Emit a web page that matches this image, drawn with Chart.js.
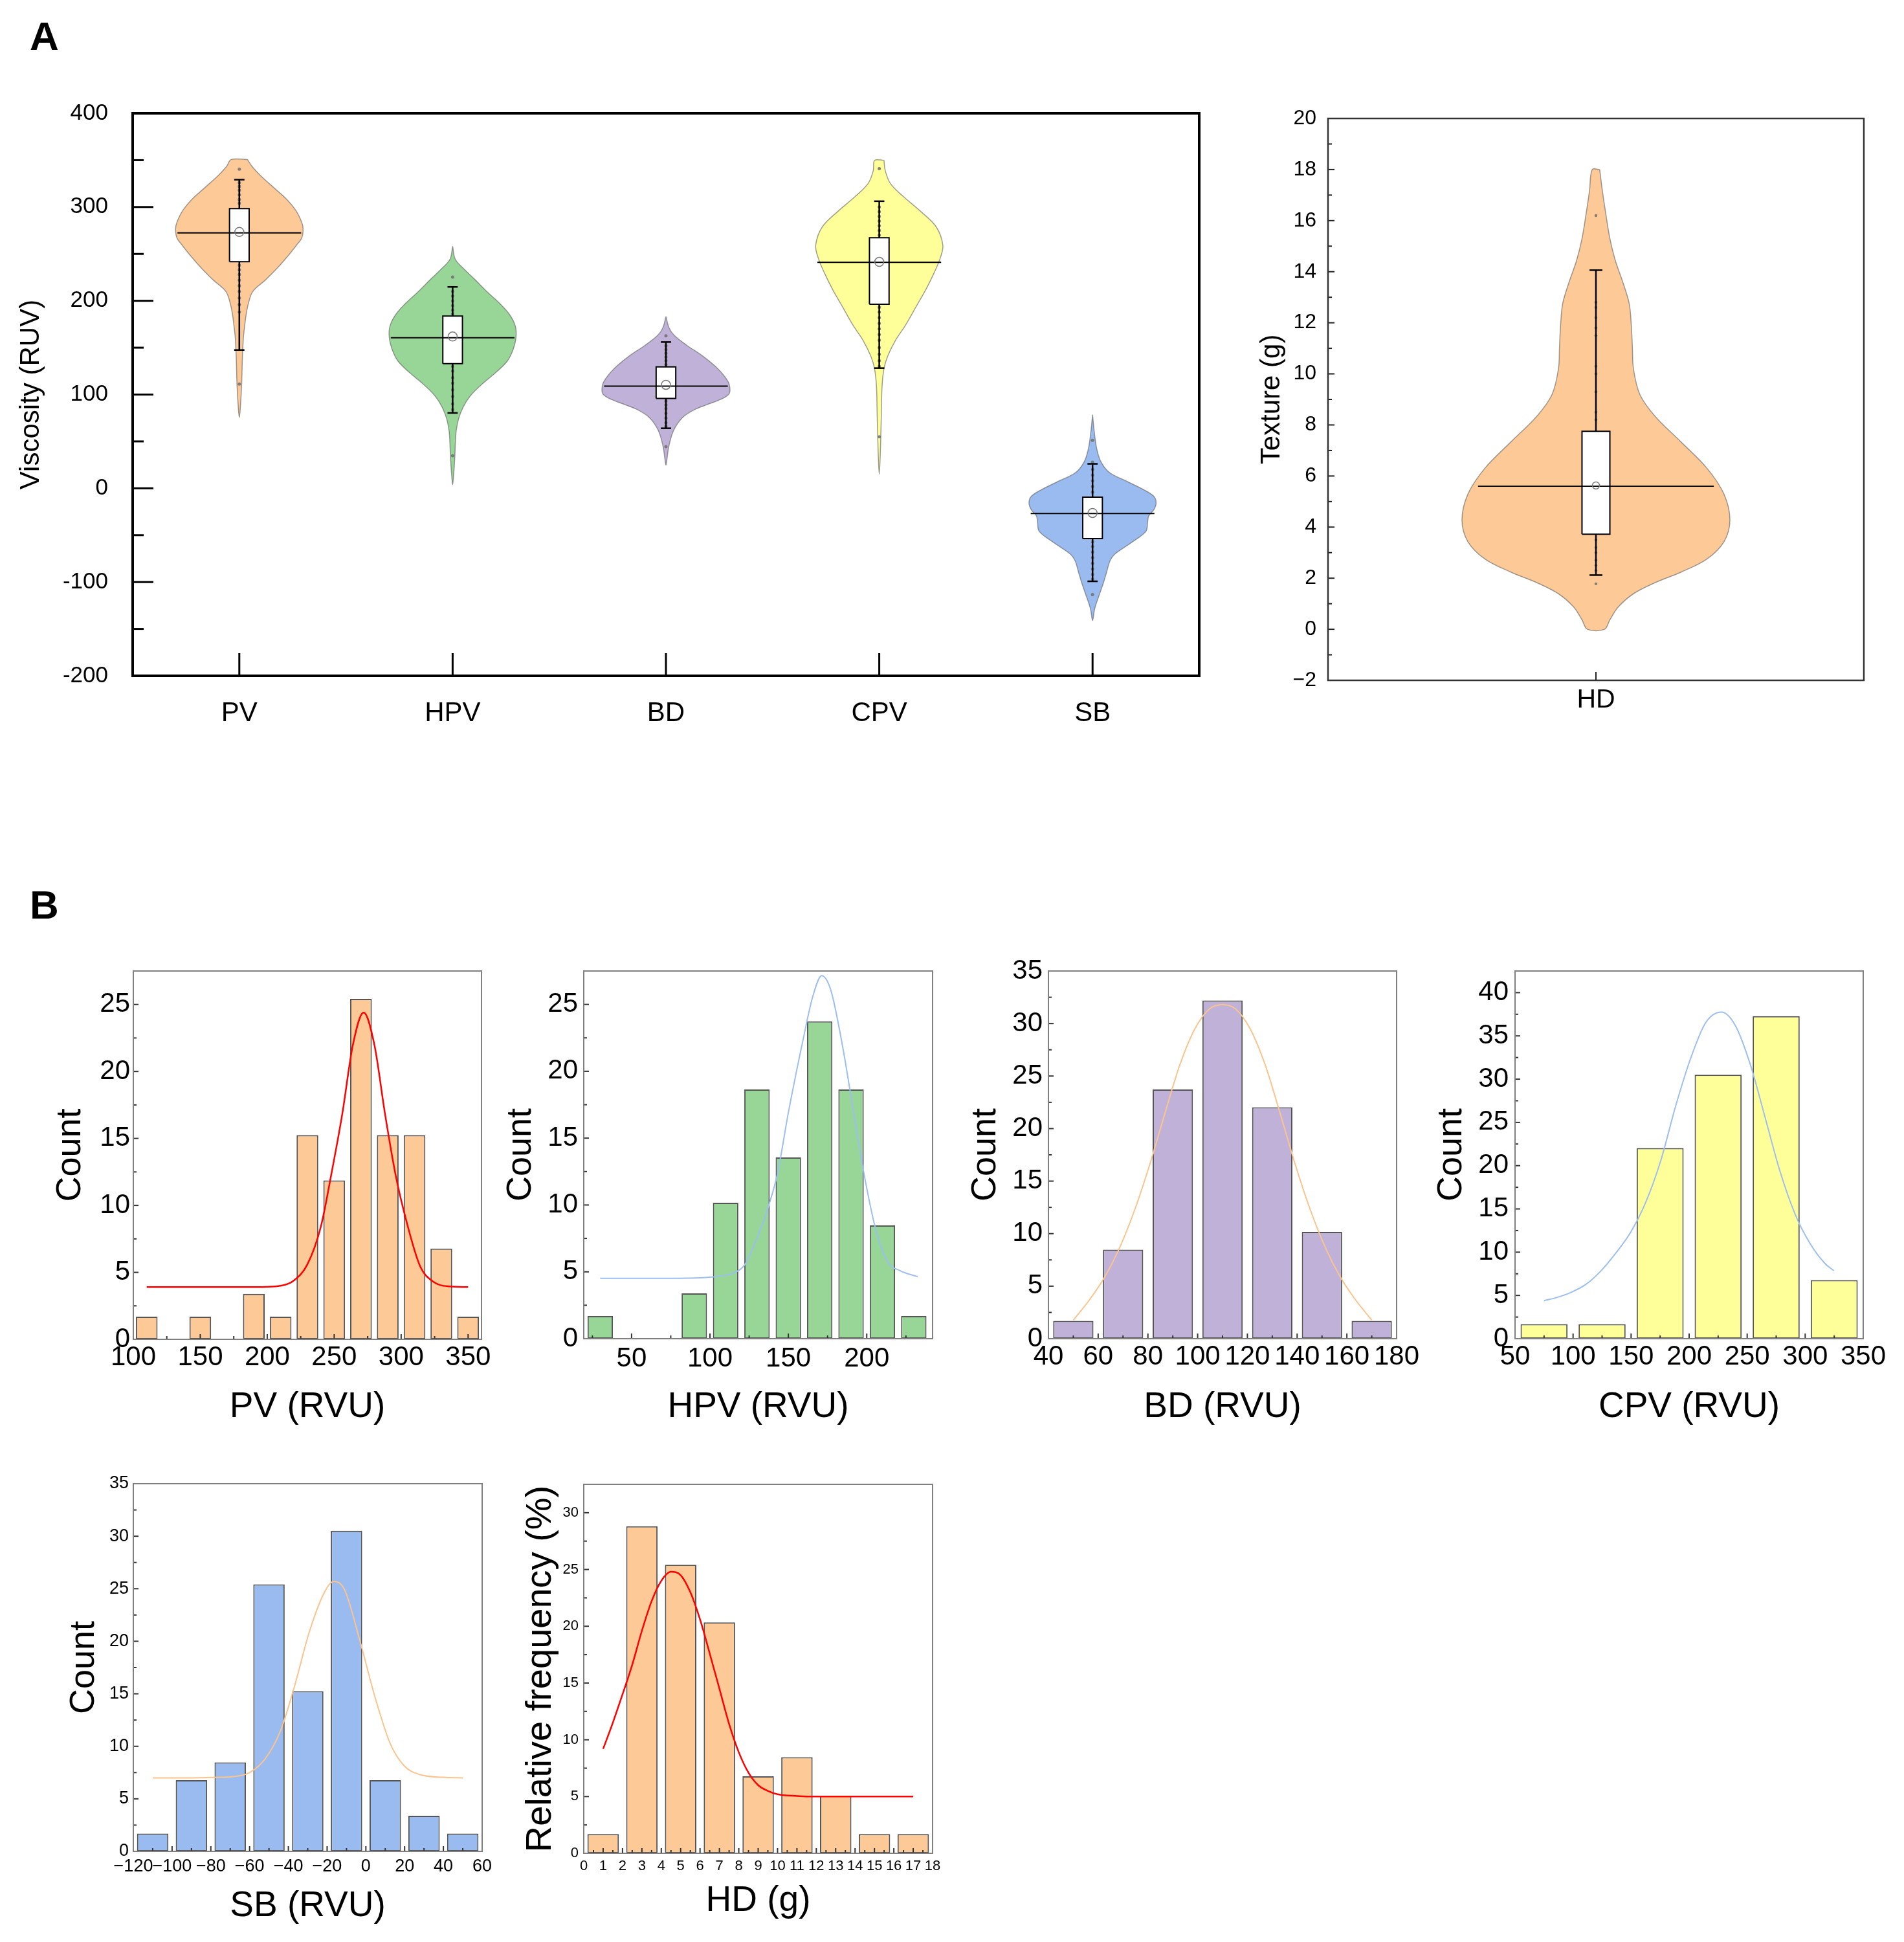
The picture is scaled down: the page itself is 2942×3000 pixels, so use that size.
<!DOCTYPE html>
<html><head><meta charset="utf-8">
<script src="https://cdn.jsdelivr.net/npm/chart.js@4.4.1/dist/chart.umd.min.js"></script>
<style>
html,body{margin:0;padding:0;background:#fff;}
body{width:2942px;height:3000px;position:relative;overflow:hidden;font-family:"Liberation Sans",Arial,sans-serif;}
canvas{position:absolute;}
.plabel{position:absolute;font-weight:bold;font-size:62px;line-height:1;color:#000;}
</style></head><body>
<div class="plabel" style="left:46px;top:25px">A</div>
<div class="plabel" style="left:46px;top:1367px">B</div>
<script>
// ---------------- DATA ----------------
// Panel A – violin plots
const violinCats = ['PV', 'HPV', 'BD', 'CPV', 'SB'];
const pvVy  = [350.7, 343.2, 333.4, 321.0, 308.7, 296.3, 284.0, 276.6, 266.7, 259.3, 247.0, 234.6, 222.3, 209.9, 197.6, 185.3, 172.9, 160.6, 135.9, 111.2, 86.5, 75.5];
const pvVw  = [0.038, 0.06, 0.10, 0.16, 0.22, 0.265, 0.292, 0.299, 0.292, 0.268, 0.225, 0.177, 0.123, 0.063, 0.043, 0.032, 0.025, 0.019, 0.014, 0.011, 0.005, 0];
const hpvVy = [258.1, 244.5, 234.6, 222.3, 209.9, 197.6, 185.3, 172.9, 160.6, 148.3, 135.9, 123.6, 111.2, 98.9, 86.5, 74.2, 61.8, 49.5, 37.1, 24.8, 12.5, 3.8];
const hpvVw = [0, 0.012, 0.05, 0.106, 0.16, 0.219, 0.267, 0.294, 0.297, 0.284, 0.257, 0.203, 0.138, 0.084, 0.049, 0.028, 0.017, 0.013, 0.011, 0.008, 0.004, 0];
const bdVy  = [183.3, 171.5, 163.3, 152.3, 141.3, 127.6, 113.9, 105.7, 100.2, 94.7, 89.2, 83.7, 75.5, 61.8, 45.3, 31.6, 24.8];
const bdVw  = [0, 0.014, 0.038, 0.099, 0.171, 0.243, 0.291, 0.300, 0.294, 0.255, 0.192, 0.132, 0.078, 0.036, 0.014, 0.005, 0];
const cpvVy = [349.8, 338.9, 325.2, 311.4, 295.0, 278.5, 259.3, 245.6, 229.2, 212.7, 193.5, 174.3, 157.8, 141.3, 127.6, 108.4, 81.0, 53.6, 31.6, 15.1];
const cpvVw = [0.022, 0.028, 0.052, 0.112, 0.196, 0.268, 0.298, 0.286, 0.256, 0.220, 0.172, 0.124, 0.076, 0.040, 0.022, 0.013, 0.010, 0.007, 0.004, 0];
const sbVy  = [78.6, 60.2, 41.8, 28.0, 16.5, 7.3, -1.9, -8.8, -15.7, -22.6, -29.5, -36.4, -45.6, -54.8, -64.0, -70.9, -77.8, -89.3, -100.8, -114.6, -128.4, -141.1];
const sbVw  = [0, 0.008, 0.020, 0.040, 0.081, 0.162, 0.243, 0.288, 0.298, 0.288, 0.263, 0.258, 0.251, 0.202, 0.142, 0.101, 0.081, 0.066, 0.051, 0.030, 0.010, 0];
const boxQ1     = [241.8, 133.0, 95.8, 196.3, -53.7];
const boxQ3     = [298.3, 183.8, 129.5, 267.2, -9.5];
const boxMedian = [272.4, 160.6, 109.0, 241.0, -26.8];
const boxMean   = [273.4, 161.9, 110.4, 241.5, -26.3];
const whiskerLo = [147.5, 80.4, 64.0, 128.2, -99.2];
const whiskerHi = [329.2, 214.8, 156.0, 306.2, 26.1];
const pvDots  = [340.4, 326, 322, 318, 313, 308, 304, 238, 233, 228, 222, 216, 210, 203, 196, 188, 111.2];
const hpvDots = [225.4, 210, 205, 200, 195, 190, 186, 130, 125, 118, 112, 105, 98, 90, 84, 34.7];
const bdDots  = [162.7, 152, 148, 144, 140, 136, 132, 93, 89, 85, 80, 75, 70, 66, 44.5];
const cpvDots = [341, 300, 295, 290, 285, 280, 275, 270, 193, 188, 182, 176, 170, 164, 158, 150, 143, 136, 130, 55];
const sbDots  = [51.2, 27.9, 20, 14, 8, 2, -4, -57, -62, -68, -74, -80, -86, -92, -97, -113.4];
const viscTicks = { min: -200, max: 400, step: 100 };

// Panel A – HD violin
const hdCat = ['HD'];
const hdVy = [18.0, 17.17, 16.32, 15.3, 14.45, 13.6, 12.76, 11.9, 11.06, 10.2, 9.19, 8.35, 7.33, 6.31, 5.29, 4.27, 3.43, 2.75, 2.24, 1.82, 1.39, 0.88, 0.37, 0];
const hdVw = [0.007, 0.012, 0.018, 0.026, 0.036, 0.050, 0.062, 0.066, 0.068, 0.070, 0.082, 0.110, 0.159, 0.207, 0.239, 0.250, 0.239, 0.207, 0.159, 0.110, 0.070, 0.042, 0.026, 0.016];
const hdStats = { q1: 3.72, q3: 7.75, med: 5.6, mean: 5.63, lo: 2.12, hi: 14.06 };
const hdDots = [16.2, 12.8, 12.6, 12.2, 11.8, 11.5, 10.3, 10.0, 9.3, 8.5, 8.2, 3.5, 3.2, 3.0, 2.7, 2.5, 2.3, 1.78];
const textureTicks = { min: -2, max: 20, step: 2 };

// Panel B – histograms (bin centres, percentage per bin, fitted curve)
const pvBins = [110, 150, 190, 210, 230, 250, 270, 290, 310, 330, 350];
const pvPct  = [1.69, 1.69, 3.39, 1.69, 15.25, 11.86, 25.42, 15.25, 15.25, 6.78, 1.69];
const pvFitX = [110, 150, 190, 210, 220, 230, 240, 248, 256, 264, 272, 280, 288, 296, 304, 314, 324, 336, 350];
const pvFitY = [3.9, 3.9, 3.9, 4.0, 4.4, 5.6, 8.4, 12.4, 16.8, 22.0, 24.4, 22.0, 16.8, 12.2, 8.8, 5.5, 4.3, 3.95, 3.9];

const hpvBins = [30, 90, 110, 130, 150, 170, 190, 210, 230];
const hpvPct  = [1.69, 3.39, 10.17, 18.64, 13.56, 23.73, 18.64, 8.47, 1.69];
const hpvFitX = [30, 80, 100, 110, 115, 122, 131, 137, 143, 150, 160, 165.6, 171.3, 177, 184.7, 190.4, 198, 205.7, 213.3, 221, 232.5];
const hpvFitY = [4.52, 4.52, 4.6, 4.75, 4.9, 5.5, 7.8, 9.8, 12.3, 16.9, 22.7, 25.6, 27.15, 26.1, 21.8, 17.8, 12.5, 8.2, 5.75, 5.1, 4.63];

const bdBins = [50, 70, 90, 110, 130, 150, 170];
const bdPct  = [1.69, 8.47, 23.73, 32.2, 22.03, 10.17, 1.69];
const bdFitX = [50, 56.7, 62.7, 68.7, 74.9, 80.9, 86.9, 92.9, 98.9, 104.8, 110, 115.2, 121.1, 127.1, 133.1, 139.1, 145.1, 151.3, 157.3, 163.3, 170];
const bdFitY = [1.76, 3.76, 5.9, 8.7, 12.4, 16.7, 21.5, 26.1, 29.5, 31.4, 31.8, 31.4, 29.5, 26.1, 21.5, 16.7, 12.4, 8.7, 5.9, 3.76, 1.76];

const cpvBins = [75, 125, 175, 225, 275, 325];
const cpvPct  = [1.69, 1.69, 22.03, 30.51, 37.29, 6.78];
const cpvFitX = [75, 85.5, 98.4, 111.2, 124.1, 137, 149.8, 162.7, 175.6, 188.4, 201.3, 214.1, 227.8, 239.8, 252.7, 265.6, 278.4, 291.3, 304.2, 317, 324.7];
const cpvFitY = [4.39, 4.74, 5.36, 6.29, 7.85, 9.92, 12.34, 15.8, 20.6, 26.9, 32.4, 36.5, 37.75, 36.2, 31.7, 25.5, 19.3, 14.4, 11.0, 8.7, 7.85];

const sbBins = [-110, -90, -70, -50, -30, -10, 10, 30, 50];
const sbPct  = [1.69, 6.78, 8.47, 25.42, 15.25, 30.51, 6.78, 3.39, 1.69];
const sbFitX = [-110, -90, -75, -67, -60, -52, -44, -37, -29, -21, -16.6, -11, -3, 5, 12.7, 20, 28, 40, 50];
const sbFitY = [7.0, 7.0, 7.05, 7.15, 7.5, 8.8, 11.5, 15.6, 21.0, 24.8, 25.7, 24.9, 20.0, 14.5, 10.2, 8.1, 7.3, 7.05, 7.0];

const hdBins = [1, 3, 5, 7, 9, 11, 13, 15, 17];
const hdPct  = [1.69, 28.81, 25.42, 20.34, 6.78, 8.47, 5.08, 1.69, 1.69];
const hdFitX = [1, 1.5, 2, 2.5, 3, 3.5, 4, 4.5, 5, 5.5, 6, 6.5, 7, 7.5, 8, 8.5, 9, 9.5, 10, 11, 12, 14, 17];
const hdFitY = [9.2, 11.5, 14.0, 16.6, 19.6, 22.2, 24.0, 24.8, 24.5, 23.0, 20.6, 17.6, 14.5, 11.4, 8.9, 7.1, 6.0, 5.5, 5.2, 5.05, 5.0, 5.0, 5.0];

// ---------------- STYLE ----------------
const FONT = '"Liberation Sans", Arial, sans-serif';
Chart.defaults.font.family = FONT;
Chart.defaults.color = '#000';
const C_ORANGE = '#FCC997', C_GREEN = '#98D698', C_PURPLE = '#C0B1D8', C_YELLOW = '#FFFF9A', C_BLUE = '#99BBF0';
const FIT_RED = '#FF0000', FIT_BLUE = '#9DBEF0', FIT_ORANGE = '#FBC48E';

// frame + inward ticks
const frameTicks = {
  id: 'frameTicks',
  afterDatasetsDraw(chart, args, opts) {
    const ctx = chart.ctx, a = chart.chartArea;
    ctx.save();
    (opts.axes || []).forEach(ax => {
      const sc = chart.scales[ax.id];
      ctx.strokeStyle = ax.color; ctx.lineWidth = ax.width; ctx.lineCap = 'butt';
      const draw = (v, len) => {
        const p = sc.getPixelForValue(v);
        ctx.beginPath();
        if (sc.isHorizontal()) { ctx.moveTo(p, a.bottom); ctx.lineTo(p, a.bottom - len); }
        else { ctx.moveTo(a.left, p); ctx.lineTo(a.left + len, p); }
        ctx.stroke();
      };
      sc.ticks.forEach(t => draw(t.value, ax.major));
      if (ax.minorStep) {
        const i0 = Math.ceil(sc.min / ax.minorStep - 1e-9), i1 = Math.floor(sc.max / ax.minorStep + 1e-9);
        for (let i = i0; i <= i1; i++) {
          const v = i * ax.minorStep;
          if (!sc.ticks.some(t => Math.abs(t.value - v) < 1e-6)) draw(v, ax.minor);
        }
      }
    });
    ctx.strokeStyle = opts.frameColor; ctx.lineWidth = opts.frameWidth;
    ctx.strokeRect(a.left, a.top, a.width, a.height);
    ctx.restore();
  }
};

function mkCanvas(b) {
  const c = document.createElement('canvas');
  c.width = b[2]; c.height = b[3];
  c.style.left = b[0] + 'px'; c.style.top = b[1] + 'px';
  c.style.width = b[2] + 'px'; c.style.height = b[3] + 'px';
  document.body.appendChild(c);
  return c;
}
function geom(b, a) {
  return { padding: { left: 0, top: a[1] - b[1], right: b[0] + b[2] - a[2], bottom: 0 }, yw: a[0] - b[0], xh: b[1] + b[3] - a[3] };
}
const negFmt = v => String(v).replace('-', '\u2212');

function violinPoly(c, ys, ws) {
  const pts = [];
  for (let i = 0; i < ys.length; i++) pts.push({ x: c + ws[i], y: ys[i] });
  for (let i = ys.length - 1; i >= 0; i--) { if (ws[i] === 0) continue; pts.push({ x: c - ws[i], y: ys[i] }); }
  pts.push({ x: c + ws[0], y: ys[0] });
  return pts;
}
function rectPoly(c, hw, lo, hi) {
  return [{ x: c - hw, y: lo }, { x: c + hw, y: lo }, { x: c + hw, y: hi }, { x: c - hw, y: hi }, { x: c - hw, y: lo }];
}
function violinSets(c, ys, ws, color, st, dots, o) {
  const ln = { type: 'scatter', showLine: true, pointRadius: 0, pointHoverRadius: 0 };
  return [
    { ...ln, data: violinPoly(c, ys, ws), fill: 'shape', backgroundColor: color, borderColor: 'rgba(95,95,95,0.6)', borderWidth: 1.5, tension: 0.35, order: 6 },
    { type: 'scatter', data: dots.map(v => ({ x: c, y: v })), pointRadius: o.dotR, backgroundColor: 'rgba(110,110,110,0.85)', borderWidth: 0, order: 5 },
    { ...ln, data: [{ x: c, y: st.lo }, { x: c, y: st.hi }], borderColor: '#000', borderWidth: o.whW, order: 4 },
    { ...ln, data: [{ x: c - o.cap, y: st.hi }, { x: c + o.cap, y: st.hi }], borderColor: '#000', borderWidth: o.whW, order: 4 },
    { ...ln, data: [{ x: c - o.cap, y: st.lo }, { x: c + o.cap, y: st.lo }], borderColor: '#000', borderWidth: o.whW, order: 4 },
    { ...ln, data: rectPoly(c, o.box, st.q1, st.q3), fill: 'shape', backgroundColor: '#fff', borderColor: '#000', borderWidth: o.boxW, tension: 0, order: 3 },
    { ...ln, data: [{ x: c - o.med, y: st.med }, { x: c + o.med, y: st.med }], borderColor: '#000', borderWidth: o.medW, order: 2 },
    { type: 'scatter', data: [{ x: c, y: st.mean }], pointRadius: o.meanR, pointStyle: 'circle', backgroundColor: 'rgba(0,0,0,0)', borderColor: '#7a7a7a', borderWidth: 1.5, order: 1 }
  ];
}
const baseOpts = { responsive: false, animation: false, devicePixelRatio: 1, events: [] };

// ---------------- Panel A: viscosity violins ----------------
(function () {
  const b = [23, 100, 1878, 1100], a = [205, 175, 1853, 1044], g = geom(b, a);
  const shapes = [[pvVy, pvVw, C_ORANGE, pvDots], [hpvVy, hpvVw, C_GREEN, hpvDots], [bdVy, bdVw, C_PURPLE, bdDots], [cpvVy, cpvVw, C_YELLOW, cpvDots], [sbVy, sbVw, C_BLUE, sbDots]];
  const o = { dotR: 2.5, whW: 2.5, cap: 0.024, box: 0.046, boxW: 2, med: 0.29, medW: 2, meanR: 7 };
  let ds = [];
  shapes.forEach((s, i) => {
    const st = { q1: boxQ1[i], q3: boxQ3[i], med: boxMedian[i], mean: boxMean[i], lo: whiskerLo[i], hi: whiskerHi[i] };
    ds = ds.concat(violinSets(i + 1, s[0], s[1], s[2], st, s[3], o));
  });
  new Chart(mkCanvas(b), {
    type: 'scatter',
    data: { datasets: ds },
    options: {
      ...baseOpts,
      layout: { padding: g.padding },
      plugins: { legend: { display: false }, tooltip: { enabled: false },
        frameTicks: { frameColor: '#000', frameWidth: 4, axes: [
          { id: 'x', major: 35, color: '#000', width: 3 },
          { id: 'y', major: 32, minor: 17, minorStep: 50, color: '#000', width: 3 }] } },
      scales: {
        x: { type: 'linear', min: 0.5, max: violinCats.length + 0.5, offset: false,
          afterBuildTicks: s => { s.ticks = violinCats.map((n, i) => ({ value: i + 1 })); },
          ticks: { autoSkip: false, maxRotation: 0, padding: 33, font: { size: 42 },
            callback: v => violinCats[Math.round(v) - 1] || '' },
          grid: { display: false, drawTicks: false }, border: { display: false },
          afterFit: s => { s.height = g.xh; } },
        y: { type: 'linear', min: viscTicks.min, max: viscTicks.max,
          ticks: { stepSize: viscTicks.step, includeBounds: false, padding: 38, font: { size: 35 }, callback: v => String(v) },
          grid: { display: false, drawTicks: false }, border: { display: false },
          title: { display: true, text: 'Viscosity (RUV)', font: { size: 42 }, padding: 0 },
          afterFit: s => { s.width = g.yw; } }
      }
    },
    plugins: [frameTicks]
  });
})();

// ---------------- Panel A: texture violin ----------------
(function () {
  const b = [1940, 100, 1002, 1100], a = [2052, 183, 2880, 1051], g = geom(b, a);
  const o = { dotR: 2.2, whW: 2.5, cap: 0.012, box: 0.026, boxW: 2, med: 0.22, medW: 1.8, meanR: 5.5 };
  const ds = violinSets(1, hdVy, hdVw, C_ORANGE, hdStats, hdDots, o);
  new Chart(mkCanvas(b), {
    type: 'scatter',
    data: { datasets: ds },
    options: {
      ...baseOpts,
      layout: { padding: g.padding },
      plugins: { legend: { display: false }, tooltip: { enabled: false },
        frameTicks: { frameColor: '#333', frameWidth: 2.5, axes: [
          { id: 'x', major: 13, color: '#222', width: 2 },
          { id: 'y', major: 10, minor: 6, minorStep: 1, color: '#222', width: 2 }] } },
      scales: {
        x: { type: 'linear', min: 0.5, max: 1.5, offset: false,
          afterBuildTicks: s => { s.ticks = hdCat.map((n, i) => ({ value: i + 1 })); },
          ticks: { autoSkip: false, maxRotation: 0, padding: 6, font: { size: 41 },
            callback: v => hdCat[Math.round(v) - 1] || '' },
          grid: { display: false, drawTicks: false }, border: { display: false },
          afterFit: s => { s.height = g.xh; } },
        y: { type: 'linear', min: textureTicks.min, max: textureTicks.max,
          ticks: { stepSize: textureTicks.step, includeBounds: false, padding: 18, font: { size: 32 }, callback: negFmt },
          grid: { display: false, drawTicks: false }, border: { display: false },
          title: { display: true, text: 'Texture (g)', font: { size: 42 }, padding: 0 },
          afterFit: s => { s.width = g.yw; } }
      }
    },
    plugins: [frameTicks]
  });
})();

// ---------------- Panel B: histograms ----------------
function histChart(b, a, h) {
  const g = geom(b, a);
  new Chart(mkCanvas(b), {
    type: 'bar',
    data: { datasets: [
      { type: 'scatter', showLine: true, data: h.fitX.map((x, i) => ({ x, y: h.fitY[i] })), xAxisID: 'x', yAxisID: 'y',
        borderColor: h.fitColor, borderWidth: h.fitW, pointRadius: 0, pointHoverRadius: 0, cubicInterpolationMode: 'monotone', order: 0 },
      { type: 'bar', data: h.bins.map((x, i) => ({ x, y: h.pct[i] })), xAxisID: 'xb', yAxisID: 'y',
        backgroundColor: h.color, borderColor: '#555', borderWidth: 2, borderSkipped: false, grouped: false,
        categoryPercentage: 1, barPercentage: 0.81, order: 1 }
    ] },
    options: {
      ...baseOpts,
      layout: { padding: g.padding },
      plugins: { legend: { display: false }, tooltip: { enabled: false },
        frameTicks: { frameColor: '#808080', frameWidth: 2, axes: [
          { id: 'x', major: 8, minor: 5, minorStep: h.xMinor, color: '#333', width: 2 },
          { id: 'y', major: 8, minor: 5, minorStep: h.yMinor, color: '#333', width: 2 }] } },
      scales: {
        x: { type: 'linear', min: h.xMin, max: h.xMax, offset: false,
          ticks: { stepSize: h.xStep, includeBounds: false, autoSkip: false, maxRotation: 0, minRotation: 0, padding: h.xPad, font: { size: h.tickX }, callback: negFmt },
          grid: { display: false, drawTicks: false }, border: { display: false },
          title: { display: true, text: h.xTitle, font: { size: h.xTitleSize }, padding: 0 },
          afterFit: s => { s.height = g.xh; } },
        xb: { type: 'linear', display: false, min: h.xMin, max: h.xMax, offset: false, ticks: { stepSize: h.xMax - h.xMin } },
        y: { type: 'linear', min: 0, max: h.yMax,
          ticks: { stepSize: h.yStep, includeBounds: false, padding: h.yPad, font: { size: h.tickY }, callback: v => String(v) },
          grid: { display: false, drawTicks: false }, border: { display: false },
          title: { display: true, text: h.yTitle, font: { size: h.yTitleSize }, padding: 0 },
          afterFit: s => { s.width = g.yw; } }
      }
    },
    plugins: [frameTicks]
  });
}

histChart([77, 1420, 743, 787], [206, 1500, 744, 2069], {
  bins: pvBins, pct: pvPct, fitX: pvFitX, fitY: pvFitY, color: C_ORANGE, fitColor: FIT_RED, fitW: 2.5,
  xMin: 100, xMax: 360, xStep: 50, xMinor: 25, yMax: 27.5, yStep: 5, yMinor: 2.5,
  xTitle: 'PV (RVU)', yTitle: 'Count', xTitleSize: 55, yTitleSize: 54, tickX: 42, tickY: 42, xPad: 3, yPad: 5 });
histChart([773, 1420, 747, 787], [902, 1500, 1441, 2068], {
  bins: hpvBins, pct: hpvPct, fitX: hpvFitX, fitY: hpvFitY, color: C_GREEN, fitColor: FIT_BLUE, fitW: 2,
  xMin: 19.5, xMax: 242, xStep: 50, xMinor: 25, yMax: 27.5, yStep: 5, yMinor: 2.5,
  xTitle: 'HPV (RVU)', yTitle: 'Count', xTitleSize: 55, yTitleSize: 54, tickX: 42, tickY: 42, xPad: 6, yPad: 9 });
histChart([1491, 1420, 749, 787], [1620, 1500, 2158, 2068], {
  bins: bdBins, pct: bdPct, fitX: bdFitX, fitY: bdFitY, color: C_PURPLE, fitColor: FIT_ORANGE, fitW: 2,
  xMin: 40, xMax: 180, xStep: 20, xMinor: 10, yMax: 35, yStep: 5, yMinor: 2.5,
  xTitle: 'BD (RVU)', yTitle: 'Count', xTitleSize: 55, yTitleSize: 54, tickX: 42, tickY: 42, xPad: 3, yPad: 9 });
histChart([2211, 1420, 731, 787], [2341, 1500, 2879, 2068], {
  bins: cpvBins, pct: cpvPct, fitX: cpvFitX, fitY: cpvFitY, color: C_YELLOW, fitColor: FIT_BLUE, fitW: 2,
  xMin: 50, xMax: 350, xStep: 50, xMinor: 25, yMax: 42.5, yStep: 5, yMinor: 2.5,
  xTitle: 'CPV (RVU)', yTitle: 'Count', xTitleSize: 55, yTitleSize: 54, tickX: 42, tickY: 42, xPad: 3, yPad: 10 });
histChart([98, 2210, 722, 768], [206, 2292, 745, 2860], {
  bins: sbBins, pct: sbPct, fitX: sbFitX, fitY: sbFitY, color: C_BLUE, fitColor: FIT_ORANGE, fitW: 2,
  xMin: -120, xMax: 60, xStep: 20, xMinor: 10, yMax: 35, yStep: 5, yMinor: 2.5,
  xTitle: 'SB (RVU)', yTitle: 'Count', xTitleSize: 55, yTitleSize: 54, tickX: 27, tickY: 27, xPad: 7, yPad: 7 });
histChart([802, 2210, 718, 760], [902, 2293, 1441, 2863], {
  bins: hdBins, pct: hdPct, fitX: hdFitX, fitY: hdFitY, color: C_ORANGE, fitColor: FIT_RED, fitW: 2.5,
  xMin: 0, xMax: 18, xStep: 1, xMinor: 0.5, yMax: 32.5, yStep: 5, yMinor: 2.5,
  xTitle: 'HD (g)', yTitle: 'Relative frequency (%)', xTitleSize: 55, yTitleSize: 56, tickX: 22, tickY: 22, xPad: 7, yPad: 8 });
</script>
</body></html>
